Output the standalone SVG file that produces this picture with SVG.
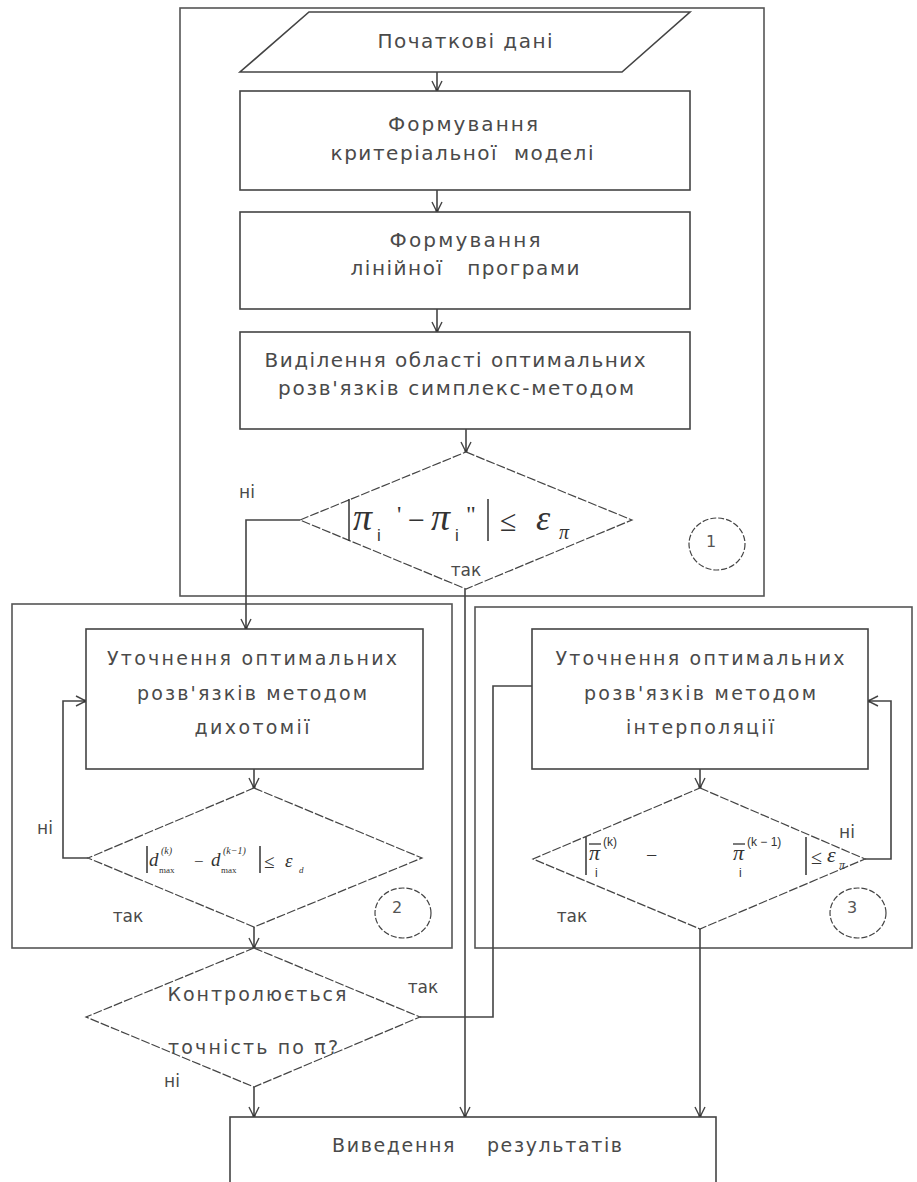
<svg xmlns="http://www.w3.org/2000/svg" width="917" height="1182" viewBox="0 0 917 1182">
<defs>
<style>
.frame{fill:none;stroke:#555;stroke-width:1.6}
.box{fill:#fff;stroke:#444;stroke-width:1.6}
.dia{fill:#fff;stroke:#444;stroke-width:1.2;stroke-dasharray:9 2}
.circ{fill:none;stroke:#444;stroke-width:1.2;stroke-dasharray:6 2}
.con{fill:none;stroke:#444;stroke-width:1.6}
.bar{stroke:#333;stroke-width:1.5}
.t{font-family:"DejaVu Sans",Verdana,sans-serif;font-size:19px;fill:#4a4a4a;text-anchor:middle}
.tb{font-family:"DejaVu Sans",Verdana,sans-serif;font-size:20px;fill:#4a4a4a;text-anchor:middle}
.lb{font-family:"DejaVu Sans",Verdana,sans-serif;font-size:17px;fill:#4a4a4a;text-anchor:middle}
.num{font-family:"DejaVu Sans",Verdana,sans-serif;font-size:16px;fill:#555;text-anchor:middle}
.m{font-family:"Liberation Serif","Times New Roman",serif;font-style:italic;fill:#333}
.mr{font-family:"Liberation Serif","Times New Roman",serif;fill:#333}
.ms{font-family:"Liberation Sans",Arial,sans-serif;fill:#333}
</style>
<marker id="arr" markerUnits="userSpaceOnUse" markerWidth="12" markerHeight="12" viewBox="0 0 12 12" refX="11" refY="6" orient="auto">
<path d="M1,1 L11,6 L1,11" fill="none" stroke="#444" stroke-width="1.4"/>
<circle cx="10" cy="6" r="1.6" fill="#333"/>
</marker>
</defs>

<g id="frame1"><rect class="frame" x="180" y="8" width="584" height="588"/></g>
<g id="frame2"><rect class="frame" x="12" y="604" width="440" height="344"/></g>
<g id="frame3"><rect class="frame" x="475" y="607" width="437" height="341"/></g>

<g id="connectors">
<path class="con" d="M437,72 V91" marker-end="url(#arr)"/>
<path class="con" d="M437,190 V212" marker-end="url(#arr)"/>
<path class="con" d="M437,309 V332" marker-end="url(#arr)"/>
<path class="con" d="M466,429 V452" marker-end="url(#arr)"/>
<path class="con" d="M300,520 H246 V629" marker-end="url(#arr)"/>
<path class="con" d="M465,589 V1117" marker-end="url(#arr)"/>
<path class="con" d="M254,769 V788" marker-end="url(#arr)"/>
<path class="con" d="M88,858 H63 V701 H86" marker-end="url(#arr)"/>
<path class="con" d="M254,927 V948" marker-end="url(#arr)"/>
<path class="con" d="M700,769 V788" marker-end="url(#arr)"/>
<path class="con" d="M865,859 H891 V701 H868" marker-end="url(#arr)"/>
<path class="con" d="M700,929 V1117" marker-end="url(#arr)"/>
<path class="con" d="M420,1017 H493 V686 H532"/>
<path class="con" d="M254,1087 V1117" marker-end="url(#arr)"/>
</g>

<g id="input">
<polygon class="box" points="309,12 690,12 622,72 240,72"/>
<text class="tb" x="465" y="48" textLength="175" lengthAdjust="spacing">Початкові дані</text>
</g>

<g id="boxA">
<rect class="box" x="240" y="91" width="450" height="99"/>
<text class="tb" x="463" y="131" textLength="150" lengthAdjust="spacing">Формування</text>
<text class="tb" x="462" y="160" textLength="263" lengthAdjust="spacing">критеріальної&#160; моделі</text>
</g>

<g id="boxB">
<rect class="box" x="240" y="212" width="450" height="97"/>
<text class="tb" x="465" y="247" textLength="151" lengthAdjust="spacing">Формування</text>
<text class="tb" x="465" y="275" textLength="229" lengthAdjust="spacing">лінійної&#160;&#160; програми</text>
</g>

<g id="boxC">
<rect class="box" x="240" y="332" width="450" height="97"/>
<text class="tb" x="455" y="367" textLength="381" lengthAdjust="spacing">Виділення області оптимальних</text>
<text class="tb" x="456" y="395" textLength="356" lengthAdjust="spacing">розв'язків симплекс-методом</text>
</g>

<g id="decision1">
<polygon class="dia" points="466,452 632,520 466,589 300,520"/>
<line class="bar" x1="349" y1="499" x2="349" y2="541"/>
<text class="m" x="353" y="530" font-size="38">π</text>
<text class="ms" x="377" y="541" font-size="17">i</text>
<text class="mr" x="397" y="522" font-size="24">'</text>
<text class="mr" x="408" y="530" font-size="30">−</text>
<text class="m" x="431" y="530" font-size="38">π</text>
<text class="ms" x="455" y="541" font-size="17">i</text>
<text class="mr" x="466" y="522" font-size="24">"</text>
<line class="bar" x1="488" y1="499" x2="488" y2="541"/>
<text class="mr" x="500" y="531" font-size="30">≤</text>
<text class="m" x="536" y="530" font-size="36">ε</text>
<text class="m" x="559" y="539" font-size="20">π</text>
</g>

<g id="label1"><ellipse class="circ" cx="717" cy="544" rx="28" ry="26"/><text class="num" x="711" y="547">1</text></g>

<g id="boxD">
<rect class="box" x="86" y="629" width="337" height="140"/>
<text class="t" x="252" y="665" textLength="290" lengthAdjust="spacing">Уточнення оптимальних</text>
<text class="t" x="252" y="700" textLength="230" lengthAdjust="spacing">розв'язків методом</text>
<text class="t" x="252" y="734" textLength="115" lengthAdjust="spacing">дихотомії</text>
</g>

<g id="decision2">
<polygon class="dia" points="254,788 422,858 254,927 88,858"/>
<line class="bar" x1="147" y1="846" x2="147" y2="873"/>
<text class="m" x="149" y="866" font-size="19">d</text>
<text class="m" x="161" y="854" font-size="10">(k)</text>
<text class="mr" x="159" y="873" font-size="9">max</text>
<text class="mr" x="194" y="867" font-size="17">−</text>
<text class="m" x="211" y="866" font-size="19">d</text>
<text class="m" x="223" y="854" font-size="10">(k−1)</text>
<text class="mr" x="221" y="873" font-size="9">max</text>
<line class="bar" x1="260" y1="846" x2="260" y2="873"/>
<text class="mr" x="264" y="868" font-size="19">≤</text>
<text class="m" x="285" y="867" font-size="19">ε</text>
<text class="m" x="299" y="873" font-size="9">d</text>
</g>

<g id="label2"><ellipse class="circ" cx="403" cy="913" rx="28" ry="25"/><text class="num" x="397" y="913">2</text></g>

<g id="boxE">
<rect class="box" x="532" y="629" width="336" height="140"/>
<text class="t" x="700" y="665" textLength="289" lengthAdjust="spacing">Уточнення оптимальних</text>
<text class="t" x="700" y="700" textLength="232" lengthAdjust="spacing">розв'язків методом</text>
<text class="t" x="700" y="734" textLength="148" lengthAdjust="spacing">інтерполяції</text>
</g>

<g id="decision3">
<polygon class="dia" points="700,788 865,859 700,929 533,859"/>
<line class="bar" x1="586" y1="837" x2="586" y2="875"/>
<line x1="589" y1="844" x2="601" y2="844" stroke="#333" stroke-width="1.3"/>
<text class="m" x="589" y="860" font-size="22">π</text>
<text class="ms" x="603" y="846" font-size="12">(k)</text>
<text class="ms" x="595" y="877" font-size="12">i</text>
<text class="mr" x="646" y="862" font-size="20">−</text>
<line x1="733" y1="844" x2="745" y2="844" stroke="#333" stroke-width="1.3"/>
<text class="m" x="733" y="860" font-size="22">π</text>
<text class="ms" x="747" y="846" font-size="12">(k − 1)</text>
<text class="ms" x="739" y="877" font-size="12">i</text>
<line class="bar" x1="806" y1="837" x2="806" y2="875"/>
<text class="mr" x="811" y="864" font-size="20">≤</text>
<text class="m" x="827" y="862" font-size="22">ε</text>
<text class="m" x="839" y="869" font-size="12">π</text>
</g>

<g id="label3"><ellipse class="circ" cx="858" cy="913" rx="28" ry="25"/><text class="num" x="852" y="913">3</text></g>

<g id="decision4">
<polygon class="dia" points="254,948 420,1017 254,1087 86,1017"/>
<text class="t" x="257" y="1001" textLength="179" lengthAdjust="spacing">Контролюється</text>
<text class="t" x="253" y="1054" textLength="170" lengthAdjust="spacing">точність по π?</text>
</g>

<g id="output">
<rect class="box" x="230" y="1117" width="486" height="80"/>
<text class="t" x="477" y="1152" textLength="290" lengthAdjust="spacing">Виведення&#160;&#160;&#160; результатів</text>
</g>

<g id="labels">
<text class="lb" x="247" y="498">ні</text>
<text class="lb" x="466" y="576">так</text>
<text class="lb" x="45" y="834">ні</text>
<text class="lb" x="128" y="922">так</text>
<text class="lb" x="847" y="838">ні</text>
<text class="lb" x="572" y="922">так</text>
<text class="lb" x="423" y="993">так</text>
<text class="lb" x="172" y="1087">ні</text>
</g>
</svg>
